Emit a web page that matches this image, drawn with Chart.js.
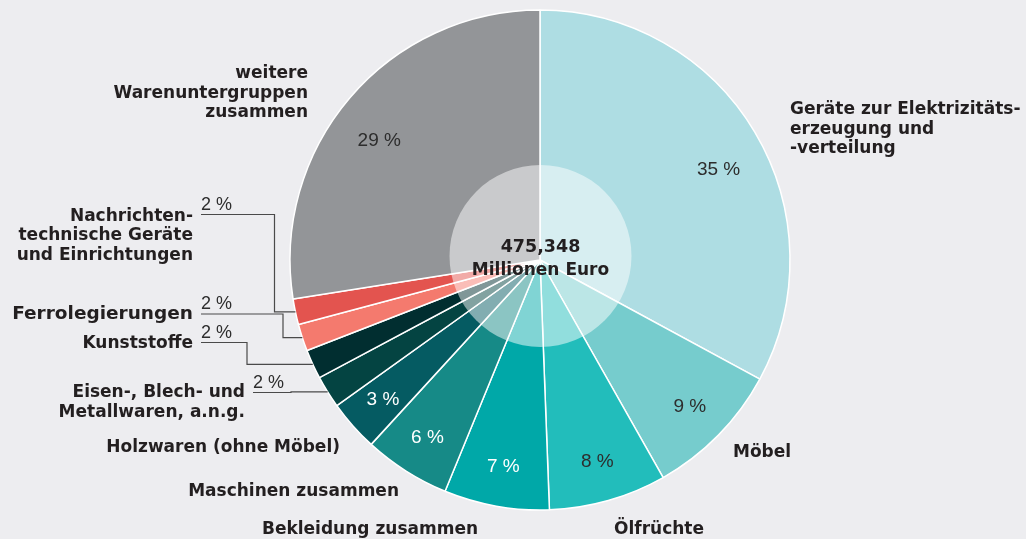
<!DOCTYPE html>
<html>
<head>
<meta charset="utf-8">
<script src="https://cdn.jsdelivr.net/npm/chart.js@4"></script>
<style>
  html, body { margin: 0; padding: 0; background: #ededf0; }
  canvas { display: block; }
</style>
</head>
<body>
<canvas id="pie" width="1026" height="539"></canvas>
<script>
// Warenuntergruppen, clockwise from 12 o'clock
const categories = [
  "Geräte zur Elektrizitätserzeugung und -verteilung",
  "Möbel",
  "Ölfrüchte",
  "Bekleidung zusammen",
  "Maschinen zusammen",
  "Holzwaren (ohne Möbel)",
  "Eisen-, Blech- und Metallwaren, a.n.g.",
  "Kunststoffe",
  "Ferrolegierungen",
  "Nachrichtentechnische Geräte und Einrichtungen",
  "weitere Warenuntergruppen zusammen"
];
// share of the total, in percent
const shares = [32.9, 8.9, 7.6, 6.8, 5.6, 3.3, 2.1, 1.9, 1.75, 1.65, 27.5];
// printed percentage labels
const pctLabels = ["35 %", "9 %", "8 %", "7 %", "6 %", "3 %", "2 %", "2 %", "2 %", "2 %", "29 %"];
const colors = ["#aedde3", "#76cccd", "#22bdbb", "#00a8a8", "#168a87", "#055b62",
                "#044442", "#012e30", "#f47a6e", "#e3544f", "#939598"];
const totalLabel = ["475,348", "Millionen Euro"];

const dark = "#231f20";
const boldFont = "'DejaVu Sans', sans-serif";
const pctFont = "'Liberation Sans', Arial, sans-serif";

// where the category names go
const labelLayout = [
  {lines: ["Geräte zur Elektrizitäts-", "erzeugung und", "-verteilung"], x: 790, y: 114, align: "left"},
  {lines: ["Möbel"], x: 733, y: 457, align: "left"},
  {lines: ["Ölfrüchte"], x: 659, y: 534, align: "center"},
  {lines: ["Bekleidung zusammen"], x: 370, y: 534, align: "center"},
  {lines: ["Maschinen zusammen"], x: 399, y: 496, align: "right"},
  {lines: ["Holzwaren (ohne Möbel)"], x: 340, y: 452, align: "right"},
  {lines: ["Eisen-, Blech- und", "Metallwaren, a.n.g."], x: 245, y: 397, align: "right", leader: {x0: 253, y: 392.5, xe: 291}},
  {lines: ["Kunststoffe"], x: 193, y: 348, align: "right", leader: {x0: 201, y: 342.5, xe: 247}},
  {lines: ["Ferrolegierungen"], x: 193, y: 319, align: "right", size: 18.5, leader: {x0: 201, y: 314, xe: 283}},
  {lines: ["Nachrichten-", "technische Geräte", "und Einrichtungen"], x: 193, y: 220.5, align: "right", leader: {x0: 201, y: 214.5, xe: 274.5}},
  {lines: ["weitere", "Warenuntergruppen", "zusammen"], x: 308, y: 78, align: "right"}
];
const whiteText = [3, 4, 5];

const pieLabels = {
  id: "pieLabels",
  afterDatasetsDraw(chart) {
    const ctx = chart.ctx;
    const arcs = chart.getDatasetMeta(0).data;
    const cx = arcs[0].x, cy = arcs[0].y, R = arcs[0].outerRadius;

    // light centre disc
    ctx.save();
    ctx.fillStyle = "rgba(255,255,255,0.5)";
    ctx.beginPath();
    ctx.arc(cx + 0.5, cy - 4, R * 0.364, 0, Math.PI * 2);
    ctx.fill();

    ctx.fillStyle = dark;
    ctx.textAlign = "center";
    ctx.textBaseline = "alphabetic";
    ctx.font = "bold 17.5px " + boldFont;
    ctx.fillText(totalLabel[0], cx + 0.5, cy - 8);
    ctx.font = "bold 17px " + boldFont;
    ctx.fillText(totalLabel[1], cx + 0.5, cy + 15);

    // percentages inside the slices
    ctx.font = "19px " + pctFont;
    ctx.textBaseline = "middle";
    arcs.forEach((a, i) => {
      if (shares[i] < 3) return;
      let mid = (a.startAngle + a.endAngle) / 2;
      const big = shares[i] > 20;
      // big slices: label sits a little lower, towards the bottom
      if (big) mid += Math.sign(Math.cos(mid)) * 4 * Math.PI / 180;
      const r = R * (big ? 0.8 : 0.84);
      ctx.fillStyle = whiteText.includes(i) ? "#ffffff" : "#2d2d2d";
      ctx.fillText(pctLabels[i], cx + Math.cos(mid) * r, cy + Math.sin(mid) * r);
    });

    // category names and leader lines
    ctx.textBaseline = "alphabetic";
    labelLayout.forEach((l, i) => {
      ctx.fillStyle = dark;
      ctx.textAlign = l.align;
      ctx.font = "bold " + (l.size || 17) + "px " + boldFont;
      l.lines.forEach((t, k) => ctx.fillText(t, l.x, l.y + k * 19.5));
      if (l.leader) {
        const a = arcs[i];
        const mid = (a.startAngle + a.endAngle) / 2;
        const ex = cx + Math.cos(mid) * R, ey = cy + Math.sin(mid) * R;
        ctx.strokeStyle = "#4a4a4a";
        ctx.lineWidth = 1.2;
        ctx.beginPath();
        ctx.moveTo(l.leader.x0, l.leader.y);
        ctx.lineTo(l.leader.xe, l.leader.y);
        ctx.lineTo(l.leader.xe, ey);
        ctx.lineTo(ex, ey);
        ctx.stroke();
        ctx.fillStyle = "#2d2d2d";
        ctx.textAlign = "left";
        ctx.font = "18px " + pctFont;
        ctx.fillText(pctLabels[i], l.leader.x0, l.leader.y - 5);
      }
    });
    ctx.restore();
  }
};

new Chart(document.getElementById("pie"), {
  type: "pie",
  data: {
    labels: categories,
    datasets: [{
      data: shares,
      backgroundColor: colors,
      borderColor: "#ffffff",
      borderWidth: 1.5
    }]
  },
  options: {
    responsive: false,
    devicePixelRatio: 1,
    animation: false,
    radius: 250,
    layout: { padding: { left: 54, right: 0, top: 0, bottom: 19 } },
    plugins: {
      legend: { display: false },
      tooltip: { enabled: false }
    }
  },
  plugins: [pieLabels]
});
</script>
</body>
</html>
